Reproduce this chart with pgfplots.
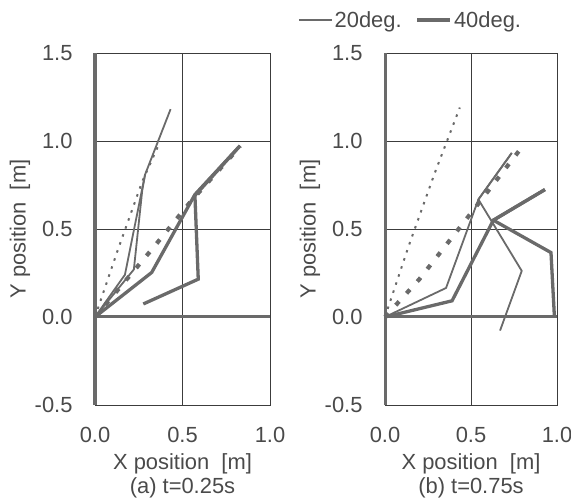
\documentclass[border=0pt]{standalone}
\usepackage{fontspec}
\setmainfont{Liberation Sans}
\usepackage{pgfplots}
\pgfplotsset{compat=1.18}

\definecolor{ln}{HTML}{6A6A6A}
\definecolor{gr}{HTML}{3C3C3C}
\definecolor{tx}{HTML}{4A4A4A}

\pgfplotsset{
  panel/.style={
    scale only axis, height=352bp,
    xmin=0, xmax=1, ymin=-0.5, ymax=1.5,
    xtick={0,0.5,1}, ytick={-0.5,0,0.5,1,1.5},
    major tick length=0pt,
    grid=major, grid style={gr, line width=0.8bp},
    axis line style={gr, line width=0.9bp},
    tick label style={font=\fontsize{22}{24}\selectfont, text=tx},
    label style={font=\fontsize{22}{24}\selectfont, text=tx},
    /pgf/number format/assume math mode=true,
    /pgf/number format/fixed,
    /pgf/number format/fixed zerofill,
    /pgf/number format/precision=1,
    xticklabel style={yshift=-19bp},
    yticklabel style={xshift=-19bp},
    xlabel style={align=center, yshift=-4bp},
    ylabel style={at={(axis description cs:0,0.5)}, anchor=center, yshift=75bp},
    ylabel={Y position\ \ [m]},
    clip=false,
  },
  thin/.style={ln, line width=1.8bp},
  thick/.style={ln, line width=3.3bp},
  dotln/.style={ln, line width=2bp, dash pattern=on 2.5bp off 6bp},
  dashln/.style={ln, line width=4.2bp, dash pattern=on 5bp off 11bp},
}

\begin{document}
\begin{tikzpicture}
\useasboundingbox (0,0) rectangle (571bp,500bp);

% (a) t=0.25s
\begin{axis}[panel, at={(95bp,95bp)}, anchor=south west, width=175bp,
    xlabel={X position\ \ [m]\\(a) t=0.25s}]
  \draw[ln, line width=3bp] (axis cs:0,-0.5) -- (axis cs:0,1.5);
  \draw[ln, line width=3bp] (axis cs:0,0) -- (axis cs:1,0);
  \addplot[dotln] coordinates {(0,0) (0.13,0.38) (0.27,0.77) (0.36,0.97)};
  \addplot[dashln] coordinates {(0,0) (0.33,0.39) (0.55,0.66) (0.83,0.97)};
  \addplot[thin] coordinates {(0,0) (0.171,0.24) (0.286,0.809) (0.432,1.181)};
  \addplot[thin] coordinates {(0,0) (0.222,0.27) (0.27,0.72) (0.286,0.809)};
  \addplot[thick] coordinates {(0,0) (0.324,0.253) (0.571,0.696) (0.829,0.973)};
  \addplot[thick] coordinates {(0.829,0.973) (0.571,0.69) (0.59,0.215) (0.276,0.074)};
\end{axis}

% (b) t=0.75s
\begin{axis}[panel, at={(385bp,95bp)}, anchor=south west, width=172bp,
    xlabel={X position\ \ [m]\\(b) t=0.75s},
    legend columns=2,
    legend style={at={(axis description cs:-0.525,1.094)}, anchor=west,
      draw=none, fill=none, font=\fontsize{22}{24}\selectfont, text=tx,
      /tikz/every even column/.append style={column sep=12bp}},
    legend image code/.code={\draw[#1] (0bp,0bp) -- (33bp,0bp);}]
  \draw[ln, line width=3bp] (axis cs:0,-0.5) -- (axis cs:0,1.5);
  \draw[ln, line width=3bp] (axis cs:0,0) -- (axis cs:1,0);
  \addlegendimage{thin}
  \addlegendentry{20deg.}
  \addlegendimage{thick}
  \addlegendentry{40deg.}
  \addplot[dotln, forget plot] coordinates {(0,0) (0.14,0.41) (0.29,0.82) (0.435,1.19)};
  \addplot[dashln, forget plot] coordinates {(0,0) (0.2,0.215) (0.5,0.59) (0.80,0.97)};
  \addplot[thin, forget plot] coordinates {(0,0) (0.355,0.165) (0.543,0.668) (0.737,0.932)};
  \addplot[thin, forget plot] coordinates {(0.737,0.932) (0.543,0.668) (0.795,0.262) (0.669,-0.077)};
  \addplot[thick, forget plot] coordinates {(0,0) (0.39,0.092) (0.63,0.55) (0.93,0.724)};
  \addplot[thick, forget plot] coordinates {(0.93,0.724) (0.63,0.55) (0.965,0.366) (0.985,0.0)};
\end{axis}
\end{tikzpicture}
\end{document}
